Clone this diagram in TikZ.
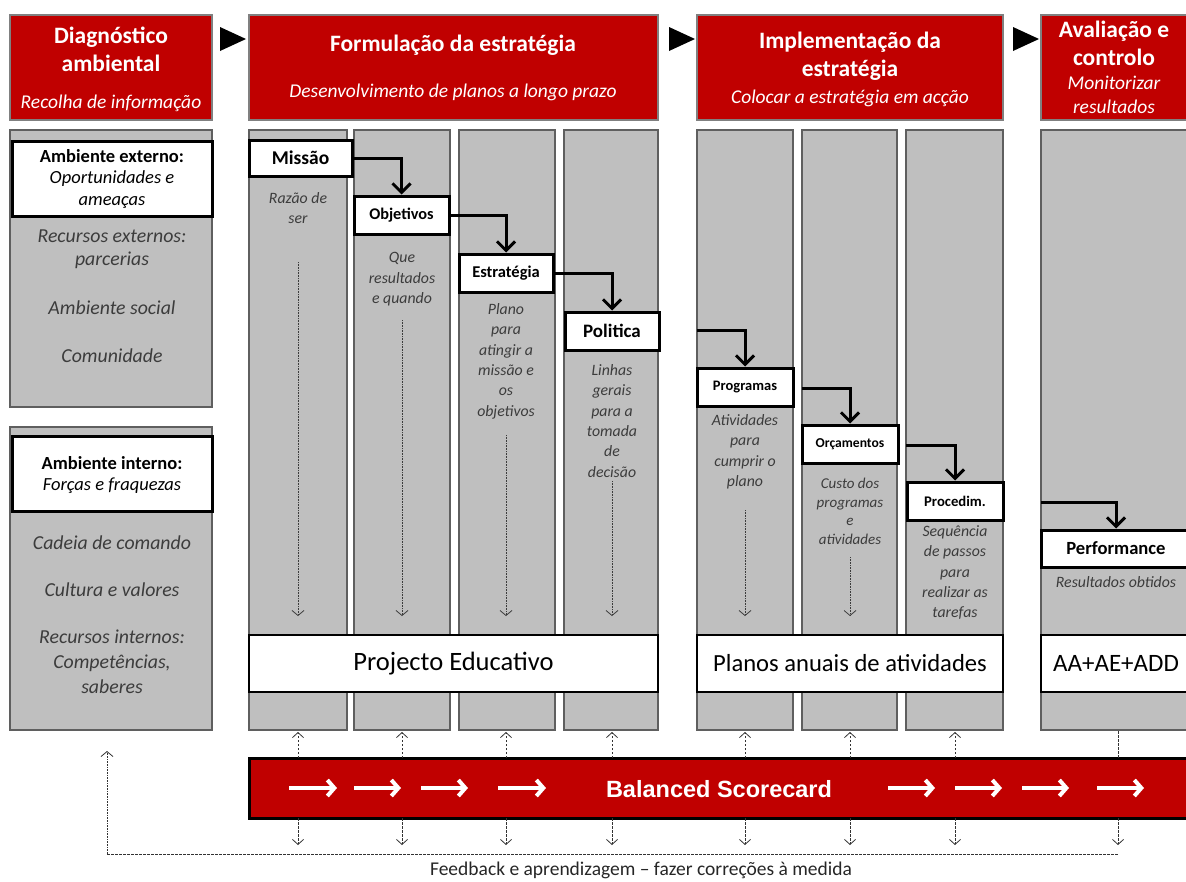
\documentclass[tikz,border=0pt]{standalone}
\usepackage{fontspec}
\setmainfont{Carlito}
\newfontfamily\arialbold[BoldFont={Liberation Sans Bold}]{Liberation Sans}
\usetikzlibrary{arrows.meta,fit}
\definecolor{hdrred}{RGB}{192,0,0}
\definecolor{colfill}{RGB}{191,191,191}
\definecolor{colline}{RGB}{95,95,95}
\definecolor{hdrline}{RGB}{128,128,128}
\definecolor{notegrey}{RGB}{60,60,60}
\begin{document}
\begin{tikzpicture}[x=1pt,y=-1pt,
  hdr/.style={draw=hdrline, fill=hdrred, line width=2.5pt, inner sep=0pt},
  panel/.style={draw=colline, fill=colfill, line width=2.5pt, inner sep=0pt},
  tag/.style={draw=black, fill=white, line width=3pt, inner sep=0pt},
  bigbox/.style={draw=black, fill=white, line width=2.5pt, inner sep=0pt},
  bar/.style={draw=black, fill=hdrred, line width=3pt, inner sep=0pt},
  htitle/.style={text=white, font=\bfseries\fontsize{23.5}{28}\selectfont, align=center},
  hsub/.style={text=white, font=\itshape\fontsize{19.5}{24}\selectfont, align=center},
  tagtext/.style={font=\bfseries\fontsize{#1}{#1}\selectfont},
  sidehead/.style={font=\fontsize{18.5}{21.5}\selectfont, align=center},
  sidenote/.style={text=notegrey, font=\itshape\fontsize{19.8}{23}\selectfont, align=center},
  colnote/.style={text=notegrey, font=\itshape\fontsize{15.8}{20.3}\selectfont, align=center},
  bigtext/.style={font=\fontsize{#1}{#1}\selectfont},
  elbow/.style={line width=3pt, -{Straight Barb[length=9pt,width=18pt]}},
  flow/.style={densely dotted, line width=0.6pt, draw=notegrey, -{Straight Barb[length=5pt,width=12pt,line width=0.8pt]}},
  link/.style={dashed, dash pattern=on 2.5pt off 1.5pt, line width=0.7pt, draw=black!80},
  linkarrow/.style={link, -{Straight Barb[length=5pt,width=11pt,line width=0.8pt]}},
  whitearrow/.style={draw=white, line width=4pt, -{Straight Barb[length=7pt,width=16pt]}},
  play/.style={fill=black}
]
\useasboundingbox (0,0) rectangle (1186,881);
\clip (0,0) rectangle (1186,881);

% ---------- phase headers ----------
\node[hdr, fit={(10,15) (212,120)}] (h1) {};
\node[hdr, fit={(249,15) (658,120)}] (h2) {};
\node[hdr, fit={(697,15) (1003,120)}] (h3) {};
\node[hdr, fit={(1041,15) (1200,120)}] (h4) {};

\node[htitle] (h1t) at (111,49) {Diagnóstico\\ambiental};
\node[hsub] (h1s) at (111,103) {Recolha de informação};
\node[htitle] (h2t) at (453,45) {Formulação da estratégia};
\node[hsub] (h2s) at (453,92) {Desenvolvimento de planos a longo prazo};
\node[htitle] (h3t) at (850,56) {Implementação da\\estratégia};
\node[hsub] (h3s) at (850,98) {Colocar a estratégia em acção};
\node[htitle] (h4t) at (1114,43.5) {Avaliação e\\controlo};
\node[hsub] (h4s) at (1114,95) {Monitorizar\\resultados};

% arrowheads between phases
\fill[play] (220,27) -- (246,39) -- (220,51) -- cycle;
\fill[play] (669,27) -- (695,39) -- (669,51) -- cycle;
\fill[play] (1013,27) -- (1039,39) -- (1013,51) -- cycle;

% ---------- environment scanning column ----------
\node[panel, fit={(10,130) (212,407)}] (ext) {};
\node[tag, fit={(12,141) (212,216)}] (extbox) {};
\node[sidehead] (extt) at (112,179) {\textbf{Ambiente externo:}\\\textit{Oportunidades e}\\\textit{ameaças}};
\node[sidenote] (ext1) at (112,249) {Recursos externos:\\parcerias};
\node[sidenote] (ext2) at (112,308) {Ambiente social};
\node[sidenote] (ext3) at (112,356) {Comunidade};

\node[panel, fit={(10,427) (212,730)}] (int) {};
\node[tag, fit={(12,436) (212,511)}] (intbox) {};
\node[sidehead] (intt) at (112,475) {\textbf{Ambiente interno:}\\\textit{Forças e fraquezas}};
\node[sidenote] (int1) at (112,543) {Cadeia de comando};
\node[sidenote] (int2) at (112,590) {Cultura e valores};
\node[sidenote, font=\itshape\fontsize{19.8}{25}\selectfont] (int3) at (112,662) {Recursos internos:\\Competências,\\saberes};

% ---------- stage columns ----------
\node[panel, fit={(249,130) (347,730)}] (c1) {};
\node[panel, fit={(354,130) (450,730)}] (c2) {};
\node[panel, fit={(459,130) (555,730)}] (c3) {};
\node[panel, fit={(564,130) (658,730)}] (c4) {};
\node[panel, fit={(697,130) (793,730)}] (c5) {};
\node[panel, fit={(802,130) (897,730)}] (c6) {};
\node[panel, fit={(906,130) (1003,730)}] (c7) {};
\node[panel, fit={(1041,130) (1195,730)}] (c8) {};

% stage labels
\node[tag, fit={(249,140) (352,176)}] (missao) {};
\node[tagtext=19.5] (missaot) at (missao) {Missão};
\node[tag, fit={(354,196) (449,234)}] (obj) {};
\node[tagtext=16.3] (objt) at (obj) {Objetivos};
\node[tag, fit={(459,254) (553,292)}] (estr) {};
\node[tagtext=16.5] (estrt) at (estr) {Estratégia};
\node[tag, fit={(565,312) (659,350)}] (pol) {};
\node[tagtext=19] (polt) at (pol) {Politica};
\node[tag, fit={(697,368) (793,406)}] (prog) {};
\node[tagtext=14.5] (progt) at (prog) {Programas};
\node[tag, fit={(802,425) (898,463)}] (orc) {};
\node[tagtext=13.6] (orct) at (orc) {Orçamentos};
\node[tag, fit={(907,482) (1003,520)}] (proc) {};
\node[tagtext=14.7] (proct) at (proc) {Procedim.};
\node[tag, fit={(1041,530) (1195,567)}] (perf) {};
\node[tagtext=18.6] (perft) at (1116,548) {Performance};

% stage descriptions
\node[colnote, anchor=north] (n1) at (298,189) {Razão de\\ser};
\node[colnote, anchor=north] (n2) at (402,249) {Que\\resultados\\e quando};
\node[colnote, anchor=north] (n3) at (506,300) {Plano\\para\\atingir a\\missão e\\os\\objetivos};
\node[colnote, anchor=north] (n4) at (612,361) {Linhas\\gerais\\para a\\tomada\\de\\decisão};
\node[colnote, anchor=north] (n5) at (745,411) {Atividades\\para\\cumprir o\\plano};
\node[colnote, anchor=north, font=\itshape\fontsize{15}{18.5}\selectfont] (n6) at (850,475) {Custo dos\\programas\\e\\atividades};
\node[colnote, anchor=north] (n7) at (955,522) {Sequência\\de passos\\para\\realizar as\\tarefas};
\node[colnote] (n8) at (1116,582) {Resultados obtidos};

% plan boxes
\node[bigbox, fit={(249,635) (658,692)}] (pe) {};
\node[bigtext=26.5] (pet) at (pe) {Projecto Educativo};
\node[bigbox, fit={(697,635) (1003,692)}] (paa) {};
\node[bigtext=24.6] (paat) at (paa) {Planos anuais de atividades};
\node[bigbox, fit={(1041,635) (1195,692)}] (aval) {};
\node[bigtext=25] (avalt) at (1116,663) {AA+AE+ADD};

% cascade between stages
\draw[elbow] (missao.east) -| (obj.north);
\draw[elbow] (obj.east) -| (estr.north);
\draw[elbow] (estr.east) -| (pol.north);
\coordinate (s5) at (697,330);
\coordinate (s6) at (802,388);
\coordinate (s7) at (906,445);
\coordinate (s8) at (1041,502);
\draw[elbow] (s5) -| (prog.north);
\draw[elbow] (s6) -| (orc.north);
\draw[elbow] (s7) -| (proc.north);
\draw[elbow] (s8) -| (perf.north -| perft);

% dotted flows down to the plans
\coordinate (f1) at (298,262); \coordinate (f2) at (402,320);
\coordinate (f3) at (506,435); \coordinate (f4) at (612,481);
\coordinate (f5) at (745,510); \coordinate (f6) at (850,557);
\draw[flow] (f1) -- (f1 |- 0,616);
\draw[flow] (f2) -- (f2 |- 0,616);
\draw[flow] (f3) -- (f3 |- 0,616);
\draw[flow] (f4) -- (f4 |- 0,616);
\draw[flow] (f5) -- (f5 |- 0,616);
\draw[flow] (f6) -- (f6 |- 0,616);

% balanced scorecard bar
\node[bar, fit={(249,758) (1200,818)}] (bsc) {};
\node[text=white, font=\arialbold\bfseries\fontsize{23.5}{23.5}\selectfont] (bsct) at (719,789) {Balanced Scorecard};
\foreach \a/\b in {289/337,354/401,421/468,498/546,888/935,955/1002,1022/1069,1097/1144}
  \draw[whitearrow] (\a,788) -- (\b,788);

% links between columns and the scorecard
\foreach \x in {298,402,506,612,745,850,955}{
  \draw[linkarrow] (\x,758) -- (\x,732);
  \draw[linkarrow] (\x,818) -- (\x,845);
}
\draw[link] (1118,731) -- (1118,758);
\draw[linkarrow] (1118,818) -- (1118,845);

% feedback loop
\coordinate (fbl) at (107,854);
\coordinate (fbr) at (1118,854);
\coordinate (fbtop) at (107,751);
\draw[link] (fbl) -- (fbr);
\draw[flow, draw=black!80] (fbl) -- (fbtop);
\node[font=\fontsize{19.5}{19.5}\selectfont, text=black!85] (fbt) at (641,870) {Feedback e aprendizagem – fazer correções à medida};
\end{tikzpicture}
\end{document}
